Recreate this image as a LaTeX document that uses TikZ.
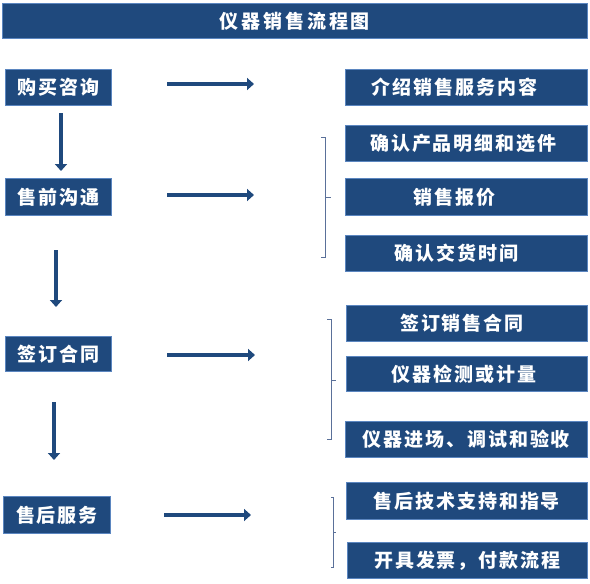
\documentclass[tikz,border=0pt]{standalone}
\usepackage{fontspec}
\newfontfamily\cjk{Noto Sans CJK SC}
\usetikzlibrary{arrows.meta}
\definecolor{boxfill}{HTML}{1F497D}
\definecolor{boxline}{HTML}{5B86C0}
\definecolor{brace}{HTML}{5A7099}
\tikzset{
  stepbox/.style={draw=boxline, line width=0.8pt, fill=boxfill, text=white,
    inner sep=0pt, anchor=north west,
    font=\cjk\bfseries\fontsize{19}{22}\selectfont\addfontfeature{LetterSpace=10}},
  textleft/.style={execute at end node={\hspace*{#1}}},
  flowarrow/.style={draw=boxfill, line width=4.5pt,
    -{Triangle[length=7pt,width=12pt]}},
  bracketline/.style={draw=brace, line width=1pt}
}
\begin{document}
\begin{tikzpicture}[x=1pt,y=-1pt]
\useasboundingbox (0,0) rectangle (590,584);
% title
\node[stepbox, minimum width=585pt, minimum height=35pt,
  font=\cjk\bfseries\fontsize{19}{22}\selectfont\addfontfeature{LetterSpace=15}] (title) at (2,3) {仪器销售流程图};
% left boxes
\node[stepbox, minimum width=106pt, minimum height=36pt] (l1) at (5,69) {购买咨询};
\node[stepbox, minimum width=106pt, minimum height=37pt] (l2) at (5,178) {售前沟通};
\node[stepbox, minimum width=106pt, minimum height=35pt] (l3) at (5,336) {签订合同};
\node[stepbox, minimum width=107pt, minimum height=37pt] (l4) at (3,496) {售后服务};
% right boxes
\node[stepbox, textleft=24pt, minimum width=242pt, minimum height=36pt] (r1) at (345,69) {介绍销售服务内容};
\node[stepbox, textleft=6pt, minimum width=242pt, minimum height=36pt] (r2) at (345,125) {确认产品明细和选件};
\node[stepbox, textleft=24pt, minimum width=242pt, minimum height=37pt] (r3) at (345,178) {销售报价};
\node[stepbox, textleft=20pt, minimum width=242pt, minimum height=36pt] (r4) at (345,235) {确认交货时间};
\node[stepbox, textleft=10pt, minimum width=241pt, minimum height=36pt] (r5) at (346,305) {签订销售合同};
\node[stepbox, textleft=6pt, minimum width=241pt, minimum height=35pt] (r6) at (346,356) {仪器检测或计量};
\node[stepbox, minimum width=242pt, minimum height=36pt] (r7) at (345,421) {仪器进场、调试和验收};
\node[stepbox, minimum width=241pt, minimum height=37pt] (r8) at (346,482) {售后技术支持和指导};
\node[stepbox, minimum width=240pt, minimum height=36pt] (r9) at (347,542) {开具发票，付款流程};
% arrow end points
\coordinate (h1s) at (167,84);  \coordinate (h1e) at (254,84);
\coordinate (h2s) at (167,195); \coordinate (h2e) at (254,195);
\coordinate (h3s) at (167,355); \coordinate (h3e) at (255,355);
\coordinate (h4s) at (164,515); \coordinate (h4e) at (251,515);
\coordinate (v1s) at (61,113);  \coordinate (v1e) at (61,171);
\coordinate (v2s) at (56,250);  \coordinate (v2e) at (56,307);
\coordinate (v3s) at (54,402);  \coordinate (v3e) at (54,460);
\draw[flowarrow] (h1s) -- (h1e);
\draw[flowarrow] (h2s) -- (h2e);
\draw[flowarrow] (h3s) -- (h3e);
\draw[flowarrow] (h4s) -- (h4e);
\draw[flowarrow] (v1s) -- (v1e);
\draw[flowarrow] (v2s) -- (v2e);
\draw[flowarrow] (v3s) -- (v3e);
% brackets
\coordinate (b1t) at (321,137); \coordinate (b1m) at (331,197); \coordinate (b1b) at (321,257);
\coordinate (b2t) at (327,319); \coordinate (b2m) at (336,380); \coordinate (b2b) at (327,439);
\coordinate (b3t) at (331,497); \coordinate (b3m) at (336,532); \coordinate (b3b) at (331,567);
\draw[bracketline] (b1t) -- (325,137) -- (325,257) -- (b1b) (325,197) -- (b1m);
\draw[bracketline] (b2t) -- (331,319) -- (331,439) -- (b2b) (331,380) -- (b2m);
\draw[bracketline] (b3t) -- (333,497) -- (333,567) -- (b3b) (333,532) -- (b3m);
\end{tikzpicture}
\end{document}
